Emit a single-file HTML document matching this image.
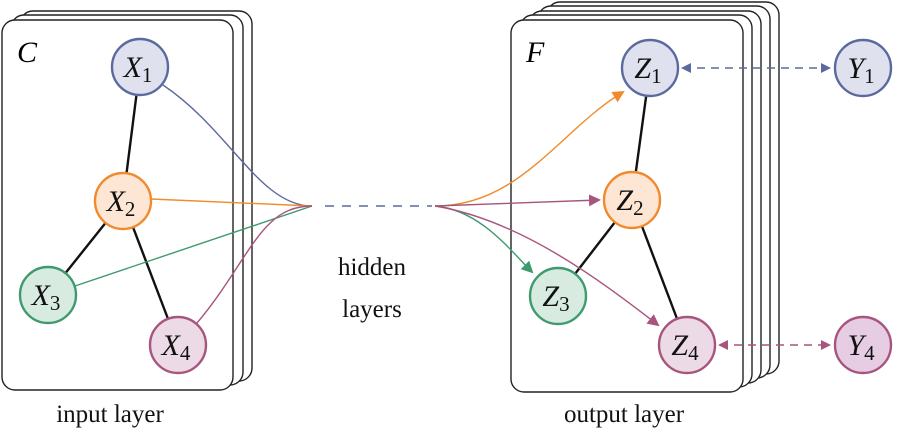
<!DOCTYPE html>
<html><head><style>body{margin:0;background:#fff}svg{display:block}text{font-family:"Liberation Serif",serif}</style></head><body>
<svg width="900" height="434" viewBox="0 0 900 434" xmlns="http://www.w3.org/2000/svg">
<defs>
<marker id="ao" markerWidth="12" markerHeight="12" refX="10" refY="6" orient="auto" markerUnits="userSpaceOnUse"><path d="M0,0 L12,6 L0,12 z" fill="#f08a2c"/></marker>
<marker id="am" markerWidth="12" markerHeight="12" refX="10" refY="6" orient="auto" markerUnits="userSpaceOnUse"><path d="M0,0 L12,6 L0,12 z" fill="#a8557e"/></marker>
<marker id="ag" markerWidth="12" markerHeight="12" refX="10" refY="6" orient="auto" markerUnits="userSpaceOnUse"><path d="M0,0 L12,6 L0,12 z" fill="#3f9a6e"/></marker>
<marker id="ab" markerWidth="10" markerHeight="10" refX="8" refY="5" orient="auto-start-reverse" markerUnits="userSpaceOnUse"><path d="M0,0 L10,5 L0,10 z" fill="#5b6a9e"/></marker>
<marker id="am2" markerWidth="10" markerHeight="10" refX="8" refY="5" orient="auto-start-reverse" markerUnits="userSpaceOnUse"><path d="M0,0 L10,5 L0,10 z" fill="#a8557e"/></marker>
</defs>
<g fill="#fff" stroke="#222" stroke-width="1.4">
<rect x="20" y="11" width="232" height="370" rx="13"/>
<rect x="11" y="15" width="232" height="370" rx="13"/>
<rect x="2" y="20" width="231" height="370" rx="13"/>
<rect x="547" y="2" width="232" height="372" rx="13"/>
<rect x="538" y="6" width="232" height="372" rx="13"/>
<rect x="529" y="11" width="232" height="372" rx="13"/>
<rect x="520" y="15" width="232" height="372" rx="13"/>
<rect x="511" y="20" width="232" height="372" rx="13"/>
</g>
<text x="17" y="62" font-size="30" font-style="italic">C</text>
<text x="526" y="62" font-size="30" font-style="italic">F</text>
<g stroke="#111" stroke-width="2.4">
<line x1="140" y1="67" x2="123" y2="201"/><line x1="123" y1="201" x2="48" y2="295"/><line x1="123" y1="201" x2="178" y2="345"/>
<line x1="650" y1="68" x2="632" y2="200"/><line x1="632" y1="200" x2="558" y2="296"/><line x1="632" y1="200" x2="687" y2="345"/>
</g>
<g fill="none" stroke-width="1.4">
<path d="M163,85 C230,130 260,206 312,206" stroke="#5b6a9e"/>
<path d="M151,199 L312,206" stroke="#f08a2c"/>
<path d="M75,286 L312,206" stroke="#3f9a6e"/>
<path d="M197,323 C250,260 260,206 312,206" stroke="#a8557e"/>
<line x1="325" y1="206" x2="432" y2="206" stroke="#5b6a9e" stroke-dasharray="9,8"/>
<path d="M435,206 C520,206 560,130 623,92" stroke="#f08a2c" marker-end="url(#ao)"/>
<path d="M435,206 L599,200" stroke="#a8557e" marker-end="url(#am)"/>
<path d="M435,206 C480,210 510,250 532,272" stroke="#3f9a6e" marker-end="url(#ag)"/>
<path d="M435,206 C520,220 600,280 658,325" stroke="#a8557e" marker-end="url(#am)"/>
<line x1="683" y1="68" x2="829" y2="68" stroke="#5b6a9e" stroke-dasharray="8,6" marker-start="url(#ab)" marker-end="url(#ab)"/>
<line x1="720" y1="345" x2="829" y2="345" stroke="#a8557e" stroke-dasharray="8,6" marker-start="url(#am2)" marker-end="url(#am2)"/>
</g>
<g stroke-width="2.4">
<circle cx="140" cy="67" r="28" fill="#dfe1ee" stroke="#5b6a9e"/>
<circle cx="123" cy="201" r="28" fill="#fde6d3" stroke="#f08a2c"/>
<circle cx="48" cy="295" r="28" fill="#d8ebe1" stroke="#3f9a6e"/>
<circle cx="178" cy="345" r="28" fill="#ecdae6" stroke="#a8557e"/>
<circle cx="650" cy="68" r="28" fill="#dfe1ee" stroke="#5b6a9e"/>
<circle cx="632" cy="200" r="28" fill="#fde6d3" stroke="#f08a2c"/>
<circle cx="558" cy="296" r="28" fill="#d8ebe1" stroke="#3f9a6e"/>
<circle cx="687" cy="345" r="28" fill="#ecdae6" stroke="#a8557e"/>
<circle cx="863" cy="68" r="28" fill="#dfe1ee" stroke="#5b6a9e"/>
<circle cx="863" cy="345" r="28" fill="#e6cde3" stroke="#a8557e"/>
</g>
<g font-size="30" text-anchor="middle" fill="#111">
<text x="138" y="77"><tspan font-style="italic">X</tspan><tspan font-size="21" dy="5">1</tspan></text>
<text x="121" y="211"><tspan font-style="italic">X</tspan><tspan font-size="21" dy="5">2</tspan></text>
<text x="46" y="305"><tspan font-style="italic">X</tspan><tspan font-size="21" dy="5">3</tspan></text>
<text x="176" y="355"><tspan font-style="italic">X</tspan><tspan font-size="21" dy="5">4</tspan></text>
<text x="648" y="78"><tspan font-style="italic">Z</tspan><tspan font-size="21" dy="5">1</tspan></text>
<text x="630" y="210"><tspan font-style="italic">Z</tspan><tspan font-size="21" dy="5">2</tspan></text>
<text x="556" y="306"><tspan font-style="italic">Z</tspan><tspan font-size="21" dy="5">3</tspan></text>
<text x="685" y="355"><tspan font-style="italic">Z</tspan><tspan font-size="21" dy="5">4</tspan></text>
<text x="861" y="78"><tspan font-style="italic">Y</tspan><tspan font-size="21" dy="5">1</tspan></text>
<text x="861" y="355"><tspan font-style="italic">Y</tspan><tspan font-size="21" dy="5">4</tspan></text>
</g>
<g font-size="25" text-anchor="middle" fill="#111">
<text x="110" y="422">input layer</text>
<text x="372" y="275">hidden</text>
<text x="372" y="317">layers</text>
<text x="624" y="422">output layer</text>
</g>
</svg>
</body></html>
